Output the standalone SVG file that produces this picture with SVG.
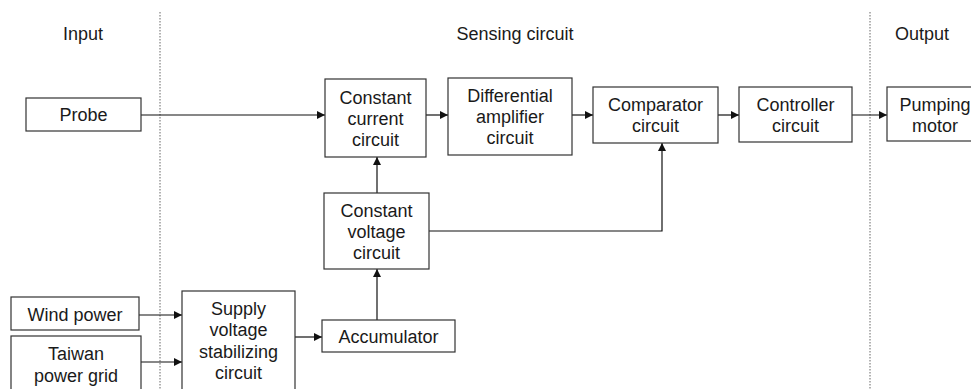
<svg xmlns="http://www.w3.org/2000/svg" width="971" height="389" viewBox="0 0 971 389">
<style>
text{font-family:"Liberation Sans",Arial,sans-serif;font-size:18px;fill:#1a1a1a;text-anchor:middle}
.box{fill:#fff;stroke:#333;stroke-width:1.2}
.ln{fill:none;stroke:#111;stroke-width:1.2}
.sep{stroke:#666;stroke-width:1;stroke-dasharray:1.5 1.5;fill:none}
</style>
<defs>
<marker id="ah" viewBox="0 0 10 10" refX="10" refY="5" markerWidth="10" markerHeight="8" markerUnits="userSpaceOnUse" orient="auto">
<path d="M0,0 L10,5 L0,10 z" fill="#111"/>
</marker>
</defs>
<rect width="971" height="389" fill="#fff"/>
<g id="separators">
<line class="sep" x1="160" y1="12" x2="160" y2="389"/>
<line class="sep" x1="870" y1="12" x2="870" y2="389"/>
</g>
<g id="headers">
<text x="83" y="39.5">Input</text>
<text x="515" y="39.5">Sensing circuit</text>
<text x="922" y="39.5">Output</text>
</g>
<g id="connectors">
<line class="ln" x1="141" y1="115" x2="325" y2="115" marker-end="url(#ah)"/>
<line class="ln" x1="426" y1="115" x2="448" y2="115" marker-end="url(#ah)"/>
<line class="ln" x1="572" y1="115" x2="593" y2="115" marker-end="url(#ah)"/>
<line class="ln" x1="718" y1="115" x2="739" y2="115" marker-end="url(#ah)"/>
<line class="ln" x1="852" y1="115" x2="887" y2="115" marker-end="url(#ah)"/>
<line class="ln" x1="377" y1="193" x2="377" y2="157" marker-end="url(#ah)"/>
<polyline class="ln" points="429,231 662,231 662,143" marker-end="url(#ah)"/>
<line class="ln" x1="377" y1="320" x2="377" y2="269" marker-end="url(#ah)"/>
<line class="ln" x1="295" y1="337" x2="322" y2="337" marker-end="url(#ah)"/>
<line class="ln" x1="139" y1="315" x2="182" y2="315" marker-end="url(#ah)"/>
<line class="ln" x1="141" y1="362" x2="182" y2="362" marker-end="url(#ah)"/>
</g>
<g id="probe">
<rect class="box" x="26" y="98" width="115" height="33"/>
<text x="83.5" y="121">Probe</text>
</g>
<g id="constant-current">
<rect class="box" x="325" y="79" width="101" height="78"/>
<text x="375.5" y="103.5">Constant</text>
<text x="375.5" y="124.5">current</text>
<text x="375.5" y="145.5">circuit</text>
</g>
<g id="differential">
<rect class="box" x="448" y="78" width="124" height="77"/>
<text x="510" y="101.5">Differential</text>
<text x="510" y="122.5">amplifier</text>
<text x="510" y="143.5">circuit</text>
</g>
<g id="comparator">
<rect class="box" x="593" y="87" width="125" height="56"/>
<text x="655.5" y="111">Comparator</text>
<text x="655.5" y="132">circuit</text>
</g>
<g id="controller">
<rect class="box" x="739" y="87" width="113" height="55"/>
<text x="795.5" y="111">Controller</text>
<text x="795.5" y="132">circuit</text>
</g>
<g id="pumping-motor">
<rect class="box" x="887" y="87" width="96" height="54"/>
<text x="935" y="110.5">Pumping</text>
<text x="935" y="131.5">motor</text>
</g>
<g id="constant-voltage">
<rect class="box" x="324" y="193" width="105" height="76"/>
<text x="376.5" y="216.5">Constant</text>
<text x="376.5" y="237.5">voltage</text>
<text x="376.5" y="258.5">circuit</text>
</g>
<g id="accumulator">
<rect class="box" x="322" y="320" width="133" height="32"/>
<text x="388.5" y="342.5">Accumulator</text>
</g>
<g id="supply-voltage">
<rect class="box" x="182" y="291" width="113" height="110"/>
<text x="238.5" y="314.5">Supply</text>
<text x="238.5" y="336">voltage</text>
<text x="238.5" y="357.5">stabilizing</text>
<text x="238.5" y="379">circuit</text>
</g>
<g id="wind-power">
<rect class="box" x="11" y="297" width="128" height="33"/>
<text x="75" y="320.5">Wind power</text>
</g>
<g id="taiwan-grid">
<rect class="box" x="11" y="336" width="130" height="65"/>
<text x="76" y="359.5">Taiwan</text>
<text x="76" y="381.5">power grid</text>
</g>
</svg>
